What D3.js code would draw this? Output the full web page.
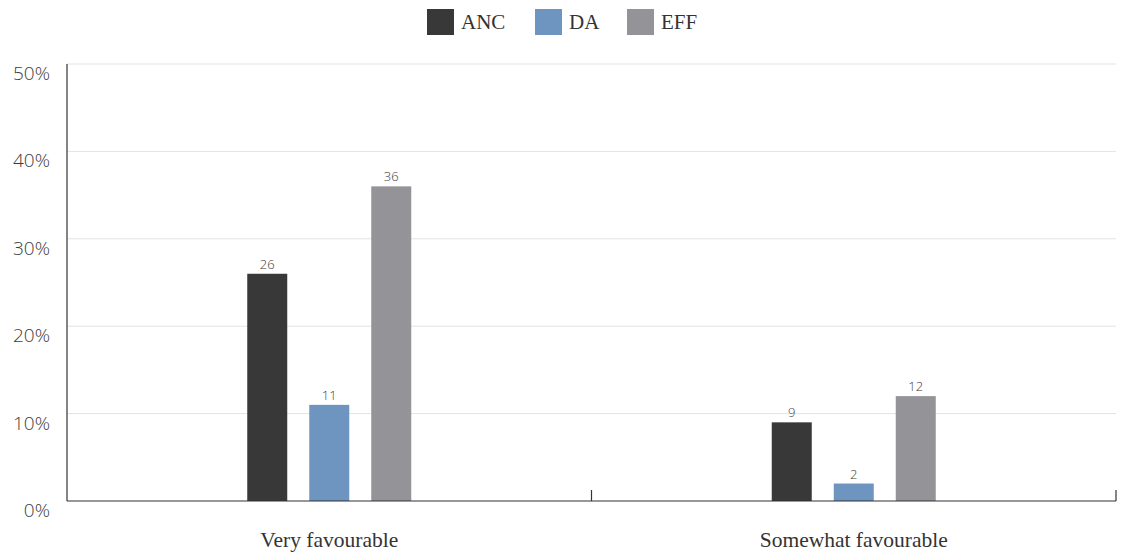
<!DOCTYPE html>
<html><head><meta charset="utf-8">
<script src="https://cdn.jsdelivr.net/npm/d3@7"></script>
<style>body{margin:0;background:#fff}</style>
</head><body>
<svg id="c" width="1125" height="556"></svg>
<script>
const categories = ["Very favourable", "Somewhat favourable"];
const seriesNames = ["ANC", "DA", "EFF"];
const seriesColors = ["#383838", "#6d95bf", "#949397"];
const ANC = [26, 9];
const DA = [11, 2];
const EFF = [36, 12];
const yTicks = [0, 10, 20, 30, 40, 50];
const seriesValues = [ANC, DA, EFF];

const svg = d3.select("#c");
const m = {l: 67, r: 1116, t: 64, b: 501};
const x = d3.scaleBand().domain(categories).range([m.l, m.r]);
const y = d3.scaleLinear().domain([0, 50]).range([m.b, m.t]);
const barW = 40, step = 62;
const sans = "'Open Sans', Lato, sans-serif";
const serif = "'Liberation Serif', 'DejaVu Serif', serif";

// grid
svg.append("g").selectAll("line").data(yTicks.filter(d => d > 0)).join("line")
  .attr("x1", m.l).attr("x2", m.r).attr("y1", d => y(d)).attr("y2", d => y(d))
  .attr("stroke", "#e3e3e3").attr("stroke-width", 1);

// y labels
svg.append("g").selectAll("text").data(yTicks).join("text")
  .attr("x", 50).attr("y", d => y(d) + 16).attr("text-anchor", "end")
  .attr("font-family", sans).attr("font-weight", 300).attr("font-size", 19).attr("fill", "#3c3c3c")
  .text(d => d + "%");

// bars
categories.forEach((c, ci) => {
  const cx = x(c) + x.bandwidth() / 2;
  seriesValues.forEach((vals, si) => {
    const v = vals[ci];
    const bx = cx + (si - 1) * step - barW / 2;
    svg.append("rect").attr("x", bx).attr("y", y(v)).attr("width", barW)
      .attr("height", y(0) - y(v)).attr("fill", seriesColors[si]);
    svg.append("text").attr("x", bx + barW / 2).attr("y", y(v) - 5)
      .attr("text-anchor", "middle").attr("font-family", sans).attr("font-weight", 300)
      .attr("font-size", 13).attr("fill", "#3c3c3c").text(v);
  });
  svg.append("text").attr("x", cx).attr("y", 547).attr("text-anchor", "middle")
    .attr("font-family", serif).attr("font-size", 21.5)
    .attr("fill", "#333").text(c);
});

// axes
svg.append("line").attr("x1", m.l).attr("x2", m.l).attr("y1", m.t).attr("y2", m.b)
  .attr("stroke", "#333").attr("stroke-width", 1.2);
svg.append("line").attr("x1", m.l).attr("x2", m.r).attr("y1", m.b).attr("y2", m.b)
  .attr("stroke", "#333").attr("stroke-width", 1.2);
const bounds = [x(categories[1]), m.r];
svg.append("g").selectAll("line").data(bounds).join("line")
  .attr("x1", d => d).attr("x2", d => d).attr("y1", m.b - 11).attr("y2", m.b)
  .attr("stroke", "#333").attr("stroke-width", 1.2);

// legend
const legX = [427, 535, 627];
seriesNames.forEach((s, i) => {
  svg.append("rect").attr("x", legX[i]).attr("y", 9).attr("width", 27).attr("height", 26)
    .attr("fill", seriesColors[i]);
  svg.append("text").attr("x", legX[i] + 34).attr("y", 29)
    .attr("font-family", serif).attr("font-size", 21)
    .attr("fill", "#333").text(s);
});
</script>
</body></html>
